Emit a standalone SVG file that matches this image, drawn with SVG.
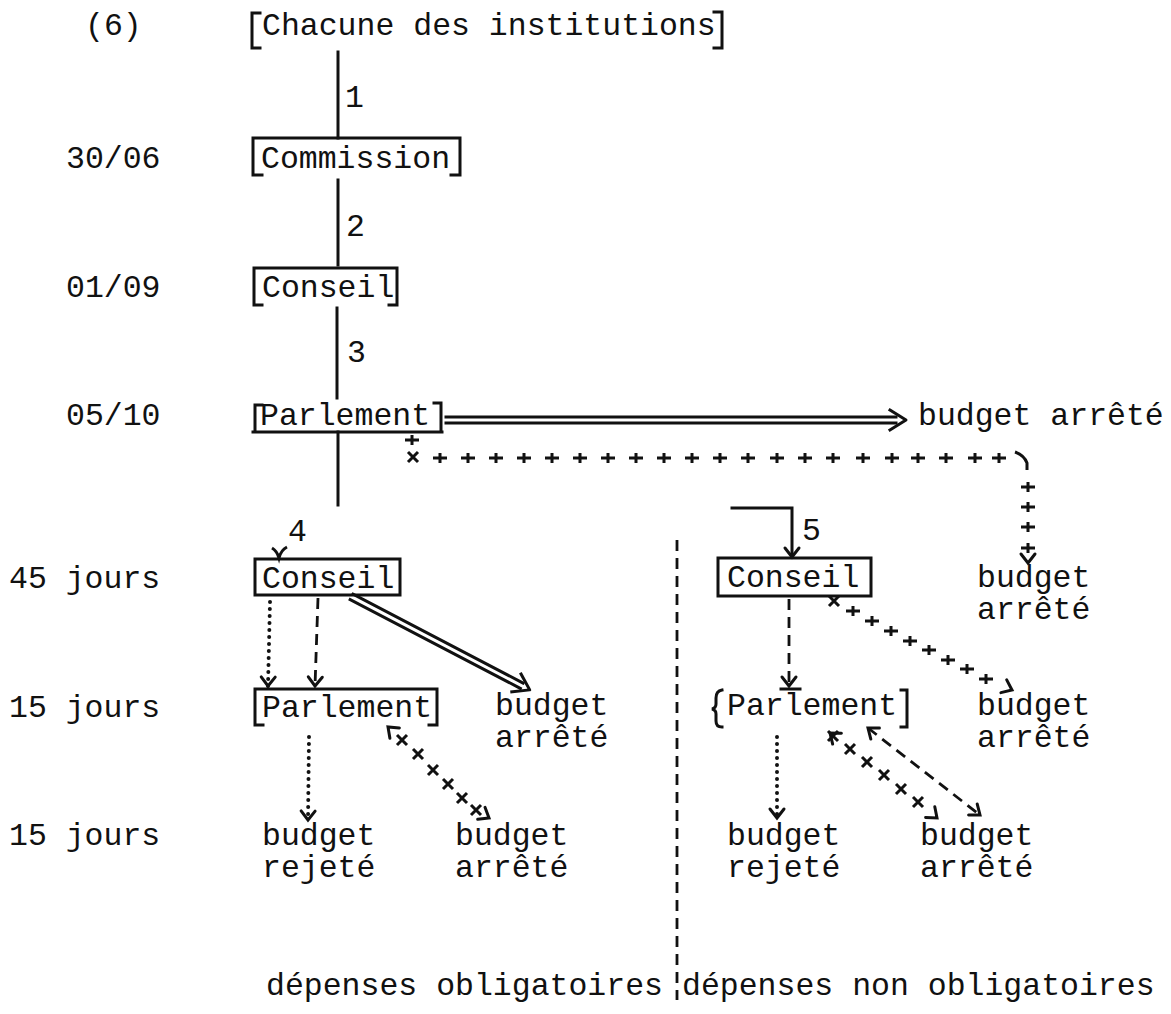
<svg xmlns="http://www.w3.org/2000/svg" xmlns:xlink="http://www.w3.org/1999/xlink" width="1171" height="1014" viewBox="0 0 1171 1014">
<style>
.t{font-family:"Liberation Mono","DejaVu Sans Mono",monospace;font-size:31.5px;fill:#111}
.ln{stroke:#111;stroke-width:3;fill:none;stroke-linecap:square}
.box{stroke:#111;stroke-width:3;fill:none}
.dash{stroke:#111;stroke-width:2.8;fill:none;stroke-dasharray:11 7}
.dot{stroke:#111;stroke-width:4;fill:none;stroke-dasharray:0 7;stroke-linecap:round}
.mk{stroke:#111;stroke-width:3;fill:none}
.inv{stroke:none;fill:none}
</style>
<defs>
<marker id="v" markerUnits="userSpaceOnUse" markerWidth="24" markerHeight="24" refX="0" refY="0" viewBox="-12 -12 24 24" orient="auto" overflow="visible">
<path d="M-9,-7 L0,0 L-9,7" stroke="#111" stroke-width="3" fill="none" stroke-linecap="round"/>
</marker>
<marker id="vs" markerUnits="userSpaceOnUse" markerWidth="24" markerHeight="24" refX="0" refY="0" viewBox="-12 -12 24 24" orient="auto-start-reverse" overflow="visible">
<path d="M-9,-7 L0,0 L-9,7" stroke="#111" stroke-width="3" fill="none" stroke-linecap="round"/>
</marker>
<path id="pl" d="M-7,0 H7 M0,-5 V5" class="mk"/>
<path id="xm" d="M-5,-5 L5,5 M-5,5 L5,-5" class="mk"/>
</defs>

<g id="labels">
<text class="t" x="85" y="35">(6)</text>
<text class="t" x="66" y="168">30/06</text>
<text class="t" x="66" y="297">01/09</text>
<text class="t" x="66" y="425">05/10</text>
<text class="t" x="9" y="588">45 jours</text>
<text class="t" x="9" y="717">15 jours</text>
<text class="t" x="9" y="845">15 jours</text>
</g>

<g id="n-chacune">
<path class="ln" d="M260,13 H252 V48 H260 M714,12 H722 V48 H714"/>
<text class="t" x="262" y="35">Chacune des institutions</text>
</g>
<g id="n-commission">
<path class="ln" d="M253,138 H460 M253,138 V175 H262 M460,138 V175 H451"/>
<text class="t" x="261" y="168">Commission</text>
</g>
<g id="n-conseil1">
<path class="ln" d="M254,268 H397 M254,268 V305 H262 M397,268 V305 H389"/>
<text class="t" x="262" y="297">Conseil</text>
</g>
<g id="n-parlement1">
<path class="ln" d="M253,432 H442 M255,432 V405 H262 M441,432 V403 H434"/>
<text class="t" x="260" y="425">Parlement</text>
</g>
<g id="n-budget-top">
<text class="t" x="918" y="425">budget arrêté</text>
</g>

<g id="n-conseil-do">
<rect class="box" x="255" y="559" width="145" height="36"/>
<text class="t" x="262" y="588">Conseil</text>
</g>
<g id="n-parlement-do">
<path class="ln" d="M255,689 H437 M255,689 V725 H263 M437,689 V725 H429"/>
<text class="t" x="262" y="717">Parlement</text>
</g>
<g id="n-budget-do1">
<text class="t" x="495" y="715">budget</text>
<text class="t" x="495" y="747">arrêté</text>
</g>
<g id="n-rejete-do">
<text class="t" x="262" y="845">budget</text>
<text class="t" x="262" y="877">rejeté</text>
</g>
<g id="n-budget-do2">
<text class="t" x="455" y="845">budget</text>
<text class="t" x="455" y="877">arrêté</text>
</g>

<g id="n-conseil-dno">
<rect class="box" x="718" y="558" width="153" height="38"/>
<text class="t" x="727" y="587">Conseil</text>
</g>
<g id="n-parlement-dno">
<path class="ln" d="M722,690 Q716,691 716,698 V704 Q716,708 712,709 Q716,710 716,714 V721 Q716,727 722,727 M901,690 H907 V727 H901 M781,689 H800"/>
<text class="t" x="727" y="715">Parlement</text>
</g>
<g id="n-budget-dno1">
<text class="t" x="977" y="587">budget</text>
<text class="t" x="977" y="619">arrêté</text>
</g>
<g id="n-budget-dno2">
<text class="t" x="977" y="715">budget</text>
<text class="t" x="977" y="747">arrêté</text>
</g>
<g id="n-rejete-dno">
<text class="t" x="727" y="845">budget</text>
<text class="t" x="727" y="877">rejeté</text>
</g>
<g id="n-budget-dno3">
<text class="t" x="920" y="845">budget</text>
<text class="t" x="920" y="877">arrêté</text>
</g>

<g id="footer">
<text class="t" x="266" y="995">dépenses obligatoires</text>
<text class="t" x="682" y="995">dépenses non obligatoires</text>
</g>

<g id="connectors">
<path class="ln" d="M338,52 V138"/>
<text class="t" x="345" y="107">1</text>
<path class="ln" d="M338,180 V265"/>
<text class="t" x="346" y="236">2</text>
<path class="ln" d="M337,308 V398"/>
<text class="t" x="347" y="362">3</text>
<path class="ln" d="M338,432 V505"/>

<path class="ln" d="M446,417 H896 M446,423 H896"/>
<path class="ln" d="M890,410 L906,420 L890,430" stroke-linecap="round" stroke-linejoin="round"/>

<use xlink:href="#pl" x="412" y="440"/>
<use xlink:href="#xm" x="413" y="457"/>
<g id="hcross">
<use xlink:href="#pl" x="440" y="458"/><use xlink:href="#pl" x="468" y="458"/><use xlink:href="#pl" x="496" y="458"/>
<use xlink:href="#pl" x="524" y="458"/><use xlink:href="#pl" x="552" y="458"/><use xlink:href="#pl" x="580" y="458"/>
<use xlink:href="#pl" x="608" y="458"/><use xlink:href="#pl" x="636" y="458"/><use xlink:href="#pl" x="664" y="458"/>
<use xlink:href="#pl" x="692" y="458"/><use xlink:href="#pl" x="720" y="458"/><use xlink:href="#pl" x="748" y="458"/>
<use xlink:href="#pl" x="777" y="458"/><use xlink:href="#pl" x="805" y="458"/><use xlink:href="#pl" x="833" y="458"/>
<use xlink:href="#pl" x="863" y="458"/><use xlink:href="#pl" x="892" y="458"/><use xlink:href="#pl" x="918" y="458"/>
<use xlink:href="#pl" x="946" y="458"/><use xlink:href="#pl" x="975" y="458"/><use xlink:href="#pl" x="999" y="458"/>
</g>
<path class="mk" d="M1015,452 Q1024,455 1027,463 V470"/>
<use xlink:href="#pl" x="1028" y="487"/><use xlink:href="#pl" x="1028" y="507"/>
<use xlink:href="#pl" x="1028" y="527"/><use xlink:href="#pl" x="1028" y="548"/>
<path class="inv" d="M1028,540 V563" marker-end="url(#v)"/>

<text class="t" x="288" y="541">4</text>
<path class="mk" d="M272,548 Q277,551 279,558 Q281,550 287,547"/>

<path class="dot" d="M270,602 L268,686" marker-end="url(#v)"/>
<path class="dash" d="M318,598 L315,686" marker-end="url(#v)"/>
<g transform="translate(348,595) rotate(27.57)">
<path class="ln" d="M4,-3 H196 M4,3 H196"/>
<path class="ln" d="M190,-10 L205,0 L190,10" stroke-linecap="round" stroke-linejoin="round"/>
</g>
<path class="dot" d="M309,737 L308,820" marker-end="url(#v)"/>
<path class="inv" d="M400,738 L388,727" marker-end="url(#v)"/>
<use xlink:href="#xm" x="402" y="740"/><use xlink:href="#xm" x="418" y="754"/>
<use xlink:href="#xm" x="433" y="770"/><use xlink:href="#xm" x="448" y="784"/>
<use xlink:href="#xm" x="462" y="798"/><use xlink:href="#xm" x="476" y="810"/>
<path class="inv" d="M476,810 L489,818" marker-end="url(#v)"/>

<path class="dash" d="M677,540 V1000" stroke-dasharray="12 8"/>

<path class="ln" d="M732,508 H792 V555"/>
<path class="inv" d="M792,540 V557" marker-end="url(#v)"/>
<text class="t" x="802" y="540">5</text>
<path class="dash" d="M789,599 V686" marker-end="url(#v)"/>
<use xlink:href="#xm" x="834" y="601"/><use xlink:href="#pl" x="853" y="611"/>
<use xlink:href="#pl" x="872" y="621"/><use xlink:href="#pl" x="891" y="631"/>
<use xlink:href="#pl" x="910" y="641"/><use xlink:href="#pl" x="929" y="650"/>
<use xlink:href="#pl" x="948" y="660"/><use xlink:href="#pl" x="967" y="669"/>
<use xlink:href="#pl" x="986" y="679"/>
<path class="inv" d="M990,680 L1012,690" marker-end="url(#v)"/>
<path class="dot" d="M777,737 L777,818" marker-end="url(#v)"/>
<path class="inv" d="M845,745 L830,733" marker-end="url(#v)"/>
<use xlink:href="#xm" x="833" y="736"/><use xlink:href="#xm" x="850" y="749"/>
<use xlink:href="#xm" x="867" y="762"/><use xlink:href="#xm" x="884" y="775"/>
<use xlink:href="#xm" x="901" y="789"/><use xlink:href="#xm" x="918" y="802"/>
<path class="inv" d="M922,805 L937,818" marker-end="url(#v)"/>
<path class="dash" d="M868,728 L980,815" marker-start="url(#vs)" marker-end="url(#vs)"/>
</g>
</svg>
